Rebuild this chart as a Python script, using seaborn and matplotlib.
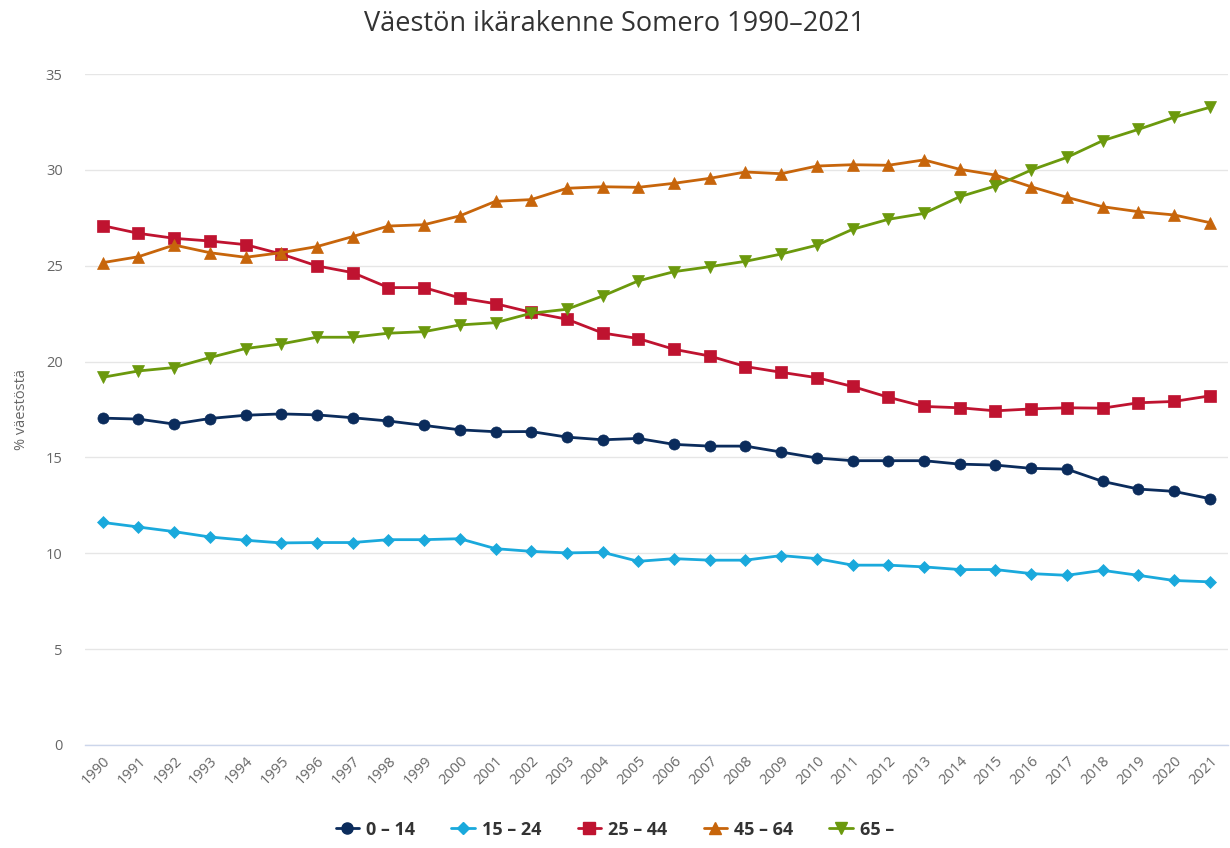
import matplotlib
matplotlib.use("Agg")
import matplotlib.pyplot as plt
import numpy as np
import pandas as pd
import seaborn as sns

years = list(range(1990, 2022))

age_0_14 = [17.05, 17.0, 16.74, 17.03, 17.2, 17.27, 17.22, 17.07, 16.9, 16.67,
            16.44, 16.34, 16.35, 16.06, 15.92, 15.99, 15.68, 15.59, 15.59, 15.28,
            14.97, 14.83, 14.83, 14.83, 14.65, 14.6, 14.43, 14.39, 13.75, 13.35,
            13.23, 12.85]
age_15_24 = [11.61, 11.37, 11.13, 10.85, 10.68, 10.54, 10.56, 10.56, 10.71, 10.71,
             10.76, 10.24, 10.1, 10.02, 10.05, 9.58, 9.72, 9.64, 9.64, 9.88,
             9.72, 9.38, 9.38, 9.29, 9.15, 9.15, 8.94, 8.85, 9.11, 8.85,
             8.58, 8.51]
age_25_44 = [27.09, 26.69, 26.43, 26.29, 26.1, 25.61, 24.99, 24.64, 23.86, 23.86,
             23.32, 23.02, 22.57, 22.21, 21.49, 21.2, 20.64, 20.29, 19.74, 19.44,
             19.16, 18.7, 18.14, 17.66, 17.59, 17.43, 17.53, 17.59, 17.57, 17.85,
             17.92, 18.21]
age_45_64 = [25.16, 25.47, 26.08, 25.68, 25.44, 25.68, 26.0, 26.52, 27.07, 27.14,
             27.6, 28.36, 28.45, 29.04, 29.12, 29.09, 29.3, 29.56, 29.89, 29.8,
             30.2, 30.27, 30.24, 30.52, 30.03, 29.73, 29.12, 28.57, 28.08, 27.82,
             27.65, 27.25]
age_65 = [19.18, 19.51, 19.69, 20.21, 20.68, 20.92, 21.27, 21.27, 21.48, 21.56,
          21.91, 22.03, 22.52, 22.73, 23.42, 24.21, 24.69, 24.95, 25.23, 25.61,
          26.07, 26.9, 27.42, 27.73, 28.6, 29.16, 29.99, 30.65, 31.52, 32.11,
          32.74, 33.26]

groups = ["0 – 14", "15 – 24", "25 – 44", "45 – 64", "65 –"]
colors = ["#0b2c5c", "#1aa9dc", "#bf1330", "#c7650b", "#6b990d"]
markers = ["o", "D", "s", "^", "v"]
msizes = [8, 6, 8, 8, 8]

df = pd.DataFrame({
    "vuosi": years * 5,
    "osuus": age_0_14 + age_15_24 + age_25_44 + age_45_64 + age_65,
    "ikä": [g for g in groups for _ in years],
})

sns.set_style("white")
plt.rcParams["font.family"] = ["Open Sans", "DejaVu Sans"]

fig = plt.figure(figsize=(12.3, 8.48), dpi=100)
ax = fig.add_axes([0.069, 0.1215, 0.929, 0.7912])

sns.lineplot(data=df, x="vuosi", y="osuus", hue="ikä", style="ikä",
             hue_order=groups, style_order=groups,
             palette=dict(zip(groups, colors)),
             markers=dict(zip(groups, markers)), dashes=False,
             linewidth=2.0, markersize=8, ax=ax, legend=False)
for line, c, ms in zip(ax.get_lines(), colors, msizes):
    line.set_markeredgecolor(c)
    line.set_markeredgewidth(0.5)
    line.set_markersize(ms)

ax.set_xlim(1989.5, 2021.5)
ax.set_ylim(0, 35)
ax.set_yticks(range(0, 36, 5))
ax.set_xticks(years)
ax.set_xticklabels([str(y) for y in years], rotation=45, ha="right",
                   rotation_mode="anchor", fontsize=10.5, color="#666666")
ax.tick_params(axis="y", labelsize=10.5, labelcolor="#666666", length=0, pad=16)
ax.tick_params(axis="x", length=0, pad=6)
ax.grid(axis="y", color="#e6e6e6", linewidth=1)
ax.grid(axis="x", visible=False)
for s in ["top", "right", "left"]:
    ax.spines[s].set_visible(False)
ax.spines["bottom"].set_color("#ccd6eb")
ax.spines["bottom"].set_linewidth(1)
ax.set_xlabel("")
ax.set_ylabel("% väestöstä", fontsize=10.5, color="#666666", labelpad=12)

fig.suptitle("Väestön ikärakenne Somero 1990–2021", x=0.5, y=0.988,
             fontsize=19.5, color="#333333")

handles = [plt.Line2D([], [], color=c, marker=m, markersize=ms, linewidth=2,
                      markeredgecolor=c) for c, m, ms in zip(colors, markers, msizes)]
fig.legend(handles, groups, loc="lower center", bbox_to_anchor=(0.5, -0.008),
           ncol=5, frameon=False, handlelength=1.3, handletextpad=0.4,
           columnspacing=2.0, prop={"weight": "bold", "size": 13})
for t in fig.legends[0].get_texts():
    t.set_color("#333333")

fig.savefig("out.png", dpi=100)
